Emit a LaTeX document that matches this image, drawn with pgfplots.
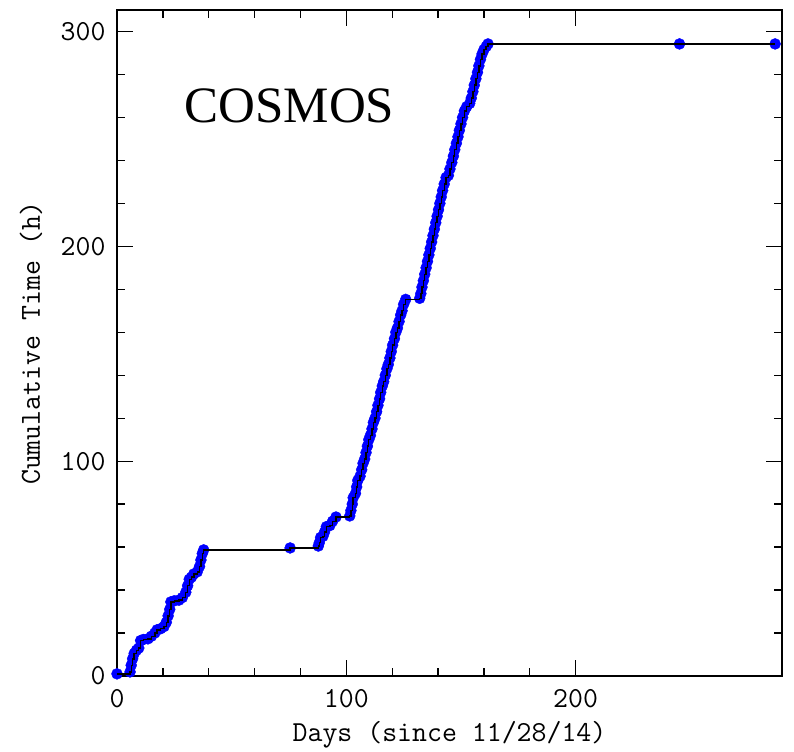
\documentclass[border=0pt]{standalone}
\usepackage{pgfplots}
\pgfplotsset{compat=1.18}
\usepackage{fontspec}
\newfontfamily\serifcos{Liberation Serif}
\newcommand{\lblfont}{\fontsize{29}{31}\selectfont\ttfamily\addfontfeatures{FakeBold=1.2}}
\pgfplotstableread{
x y
0 1.0
5.7 1.9
6.2 5
6.8 8
7.5 10.5
8.5 12
9.5 13
10.3 16.5
11.5 17
13.5 17.3
15 18.5
16.5 20
17.5 21.5
19 22
20.5 23
21.5 25
22.3 28
23 31
23.5 34.5
25 35
27 35.3
28.5 36.5
30 39
30.8 42
31.5 45
32.5 46
33.5 47.5
35 48.5
36 51
36.6 54
37.2 57
37.8 58.7
75.5 59.6
87.8 60.5
88.2 62
88.8 64.5
89.8 65
90.5 67
91.3 69.5
92.8 70
94 72
95.5 74
101.5 74.5
102 77
102.6 80
103 83
104 85
104.5 88
105 91
106 93
106.7 96
107.3 99
108 101
108.6 104
109.2 107
109.8 110
110.5 112
111.2 115
111.8 118
112.5 120
113.2 123
113.8 126
114.5 129
115 132
115.7 135
116.3 137
117 140
117.7 143
118.3 145
119 148
119.6 151
120.2 154
121 157
121.6 160
122.3 162
123 165
123.7 168
124.3 170
125 173
125.9 175.3
132 175.8
132.5 178
133 181
133.6 184
134.2 187
134.8 190
135.4 193
136 196
136.6 199
137.2 202
137.8 205
138.4 208
139 211
139.6 214
140.2 217
140.8 220
141.4 223
142 226
142.7 229
143.5 232
144.5 233
145.2 236
146 239
146.7 242
147.3 245
148 248
148.7 251
149.3 254
150 257
150.7 260
151.5 263
152.5 265
153.8 266.5
154.5 269
155.2 272
155.8 275
156.5 278
157.2 281
157.8 284
158.5 287
159.2 289.5
160 291.5
161 293
161.8 294.2
245.3 294.2
287 294.2
}\cumdata
\begin{document}
\begin{tikzpicture}
\begin{axis}[
  name=ax,
  scale only axis,
  width=665pt, height=666pt,
  xmin=0, xmax=290, ymin=0, ymax=310,
  xtick={0,100,200}, ytick={0,100,200,300},
  minor x tick num=4, minor y tick num=4,
  tick align=inside,
  xtick pos=both, ytick pos=both,
  major tick length=16pt, minor tick length=8pt,
  every tick/.style={black, line width=1.3pt},
  axis line style={line width=2.2pt},
  /pgf/number format/assume math mode=true,
  tick label style={font=\lblfont},
  xticklabel style={anchor=base, yshift=-32pt},
  yticklabel style={anchor=east, xshift=-8pt},
  label style={font=\lblfont},
  xlabel={Days (since 11/28/14)},
  ylabel={Cumulative Time (h)},
  xlabel style={at={(axis description cs:0.5,0)}, anchor=base, yshift=-66pt},
  ylabel style={at={(axis description cs:-0.107,0.5)}, anchor=south, rotate=0},
  clip=false,
  clip marker paths=true,
]
\addplot[only marks, mark=*, mark size=5.5pt, color=blue, mark options={draw=blue, fill=blue}] table {\cumdata};
\addplot[const plot, black, line width=1.4pt, mark=none] table {\cumdata};
\node[anchor=base, font=\fontsize{51}{53}\selectfont\serifcos] at (axis cs:75.2,257.5) {COSMOS};
\end{axis}
\path ([xshift=-117pt,yshift=-73pt]ax.south west) rectangle ([xshift=12pt,yshift=10pt]ax.north east);
\end{tikzpicture}
\end{document}
